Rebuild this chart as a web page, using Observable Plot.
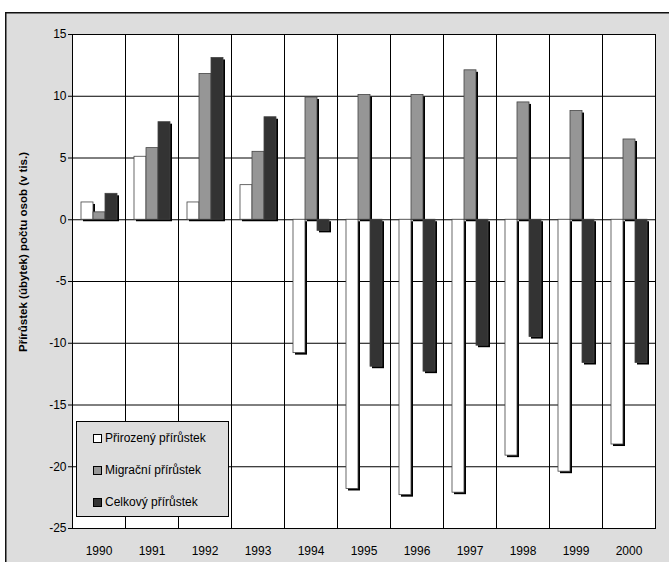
<!DOCTYPE html>
<html>
<head>
<meta charset="utf-8">
<script src="https://cdn.jsdelivr.net/npm/d3@7"></script>
<script src="https://cdn.jsdelivr.net/npm/@observablehq/plot@0.6"></script>
<style>
  html, body { margin: 0; padding: 0; background: #FFFFFF; }
  body { width: 669px; height: 562px; position: relative; overflow: hidden; font-family: "Liberation Sans", Arial, sans-serif; }
  #chart { position: absolute; left: 0; top: 0; }
  #chart svg { overflow: visible !important; font-family: "Liberation Sans", Arial, sans-serif !important; color: #000 !important; }
  #ylabel { position: absolute; left: 23px; top: 252px; transform: translate(-50%, -50%) rotate(-90deg); white-space: nowrap; font-weight: bold; font-size: 11.5px; color: #000; }
  #legend { position: absolute; left: 76px; top: 421px; width: 153px; height: 96px; background: #DDDDDD; border: 1px solid #000; box-sizing: border-box; font-size: 12px; color: #000; }
  .item { position: absolute; left: 16px; height: 14px; line-height: 14px; white-space: nowrap; }
  .sw { display: inline-block; width: 7px; height: 7px; border: 1px solid #000; margin-right: 3px; vertical-align: -1px; }
</style>
</head>
<body>
<div id="chart"></div>
<div id="ylabel">Přírůstek (úbytek) počtu osob (v tis.)</div>
<div id="legend"></div>
<script>
const years = ["1990","1991","1992","1993","1994","1995","1996","1997","1998","1999","2000"];
const prirozeny = [1.4, 5.1, 1.4, 2.8, -10.8, -21.8, -22.3, -22.1, -19.1, -20.4, -18.2];
const migracni  = [0.6, 5.8, 11.8, 5.5, 9.9, 10.1, 10.1, 12.1, 9.5, 8.8, 6.5];
const celkovy   = [2.1, 7.9, 13.1, 8.3, -0.9, -11.9, -12.3, -10.2, -9.5, -11.6, -11.6];
const seriesNames = ["Přirozený přírůstek", "Migrační přírůstek", "Celkový přírůstek"];
const seriesColors = ["#FFFFFF", "#969696", "#333333"];
const yTicks = [-25, -20, -15, -10, -5, 0, 5, 10, 15];

const data = [];
years.forEach((yr, i) => {
  data.push({year: yr, series: seriesNames[0], value: prirozeny[i]});
  data.push({year: yr, series: seriesNames[1], value: migracni[i]});
  data.push({year: yr, series: seriesNames[2], value: celkovy[i]});
});

const chart = Plot.plot({
  width: 669,
  height: 562,
  marginLeft: 67,
  marginRight: 9,
  marginTop: 34,
  marginBottom: 34,
  style: {overflow: "visible", fontFamily: "'Liberation Sans', Arial, sans-serif", color: "#000"},
  fx: {domain: years, padding: 0, label: null},
  x: {domain: seriesNames, type: "band", paddingInner: 0, paddingOuter: 0.55, axis: null},
  y: {domain: [-25, 15], label: null},
  color: {domain: seriesNames, range: seriesColors},
  marks: [
    Plot.frame({fill: "white", stroke: null}),
    Plot.ruleY(yTicks, {stroke: "#000", strokeWidth: 1}),
    Plot.frame({stroke: "#000", strokeWidth: 1}),
    Plot.barY(data, {fx: "year", x: "series", y: "value", fill: "#000", dx: 2, dy: 2}),
    Plot.barY(data, {fx: "year", x: "series", y: "value", fill: "series", stroke: "#444", strokeWidth: 0.8}),
    Plot.axisY({ticks: yTicks, tickSize: 4, tickPadding: 2, fontSize: 12, label: null, tickFormat: d => String(d).replace("−","-")}),
    Plot.axisFx({anchor: "bottom", tickSize: 0, tickPadding: 18, fontSize: 12, label: null})
  ]
});

// chart-area background panel (gray with black top/left border), placed behind all marks
const bg = d3.select(chart).insert("g", ":first-child");
bg.append("rect").attr("x", 0).attr("y", 0).attr("width", 669).attr("height", 562).attr("fill", "#FFFFFF");
bg.append("rect").attr("x", 5.75).attr("y", 12.75).attr("width", 700).attr("height", 600)
  .attr("fill", "#DDDDDD").attr("stroke", "#111").attr("stroke-width", 1.5);

document.getElementById("chart").appendChild(chart);

const legend = document.getElementById("legend");
const rowTops = [9, 41, 73];
seriesNames.forEach((name, i) => {
  const item = document.createElement("div");
  item.className = "item";
  item.style.top = rowTops[i] + "px";
  const sw = document.createElement("span");
  sw.className = "sw";
  sw.style.background = seriesColors[i];
  item.appendChild(sw);
  item.appendChild(document.createTextNode(name));
  legend.appendChild(item);
});
</script>
</body>
</html>
